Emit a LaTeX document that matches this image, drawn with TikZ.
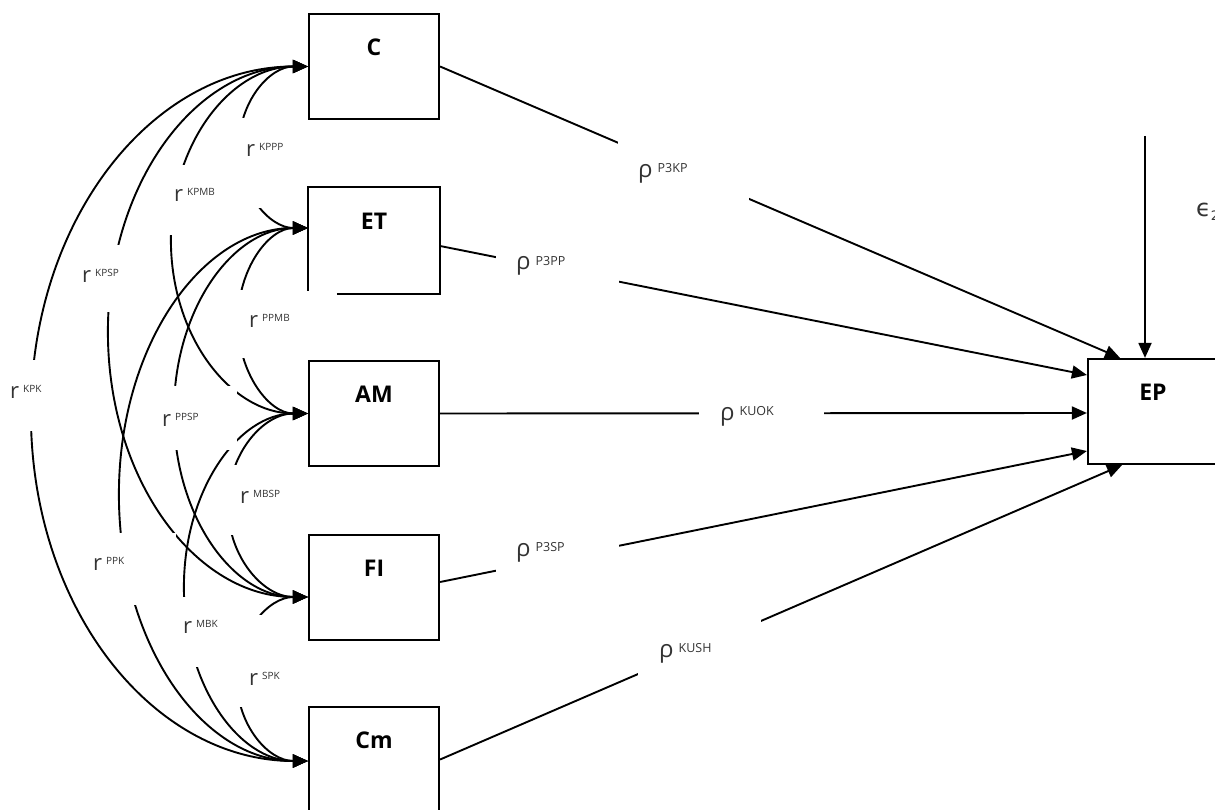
\documentclass[tikz,border=0pt]{standalone}
\usepackage{fontspec}
\setmainfont{Open Sans}
\newfontfamily\symfont{DejaVu Sans}
\usetikzlibrary{arrows.meta,calc}

% double-headed correlation arc bulging to the left of two box anchors
% #1 upper anchor, #2 lower anchor, #3 depth of the bulge
\newcommand\corrarc[3]{%
  \draw[corr] (#1) let \p1=(#1), \p2=(#2), \n1={(\y1+\y2)/2}, \n2={(\y1-\y2)/2} in
    .. controls ({\x1-0.56*#3}, \y1) and ({\x1-#3}, {(\n1+0.56*\n2)*1pt}) .. ({\x1-#3}, {\n1*1pt})
    .. controls ({\x1-#3}, {(\n1-0.56*\n2)*1pt}) and ({\x1-0.56*#3}, \y2) .. (#2);}

\newcommand\rsup[1]{\hspace{4pt}\raisebox{6pt}{\fontsize{10}{12}\selectfont #1}}
\newcommand\psup[1]{\hspace{5pt}\raisebox{5pt}{\fontsize{12.5}{14}\selectfont #1}}

\tikzset{
  tip/.tip={Triangle[length=15pt,width=13pt]},
  corr/.style={line width=1.9pt, tip-tip},
  pathline/.style={line width=1.9pt, -tip},
  box/.style={draw, line width=2.2pt, fill=white, minimum width=130pt, minimum height=105pt, inner sep=0pt},
  boxtext/.style={font=\fontsize{23}{26}\selectfont\bfseries, inner sep=0pt},
  rlab/.style={anchor=base west, inner sep=0pt, text=black!80, font=\fontsize{22}{24}\selectfont},
  plab/.style={anchor=base west, inner sep=0pt, text=black!80, font=\fontsize{24}{26}\selectfont},
  mask/.style={fill=white}
}

\begin{document}
\begin{tikzpicture}[x=1pt,y=-1pt]
\useasboundingbox (0,0) rectangle (1215,810);

% boxes
\path (374,66.5)  node[box] (C)  {};
\path (374,240.5) node[box, draw=none] (ET) {};
\path (374,413.5) node[box] (AM) {};
\path (374,587.5) node[box] (FI) {};
\path (374,759.5) node[box] (Cm) {};
\path (1153,411.5) node[box] (EP) {};

% arrow anchors on the left sides
\coordinate (aC)  at (C.west);
\coordinate (aET) at ([yshift=12.5pt]ET.west);
\coordinate (aAM) at (AM.west);
\coordinate (aFI) at ([yshift=-9.5pt]FI.west);
\coordinate (aCm) at ([yshift=-1.5pt]Cm.west);

% correlations
\corrarc{aC}{aET}{69}
\corrarc{aC}{aAM}{137}
\corrarc{aC}{aFI}{200}
\corrarc{aC}{aCm}{277}
\corrarc{aET}{aAM}{70}
\corrarc{aET}{aFI}{134}
\corrarc{aET}{aCm}{189}
\corrarc{aAM}{aFI}{80}
\corrarc{aAM}{aCm}{124}
\corrarc{aFI}{aCm}{71}

% paths into EP
\coordinate (eps) at (1145,136);
\draw[pathline] (C.east) -- ([xshift=-33pt]EP.north);
\draw[pathline] ([yshift=-5.5pt]ET.east) -- ([yshift=36.5pt]EP.west);
\draw[pathline] (AM.east) -- ([yshift=-1.5pt]EP.west);
\draw[pathline] ([yshift=5.5pt]FI.east) -- ([yshift=-39.5pt]EP.west);
\draw[pathline] (Cm.east) -- ([xshift=-31pt]EP.south);
\draw[pathline] (eps) -- ([xshift=-8pt]EP.north);

% label backgrounds
\fill[mask] (228,118) rectangle (300,208);
\fill[mask] (160,165) rectangle (228,235);
\fill[mask] (70,245) rectangle (140,312);
\fill[mask] (0,360) rectangle (55,431);
\fill[mask] (232,290) rectangle (298,358);
\fill[mask] (150,386) rectangle (237,450);
\fill[mask] (85,533) rectangle (176,605);
\fill[mask] (224,465) rectangle (298,535);
\fill[mask] (168,597) rectangle (228,667);
\fill[mask] (231,615) rectangle (300,707);
\fill[mask] (618,120) rectangle (749,212);
\fill[mask] (496,240) rectangle (619,295);
\fill[mask] (699,400) rectangle (824,428);
\fill[mask] (496,535) rectangle (619,590);
\fill[mask] (638,610) rectangle (761,690);

% outline of ET, open at its lower left corner
\draw[line width=2.2pt] ([xshift=29pt]ET.south west) -- (ET.south east) -- (ET.north east)
  -- (ET.north west) -- ([yshift=3pt]ET.south west);

% box titles
\node[boxtext] (tC)  at ([yshift=-34pt]C.north)  {C};
\node[boxtext] (tET) at ([yshift=-34pt]ET.north) {ET};
\node[boxtext] (tAM) at ([yshift=-34pt]AM.north) {AM};
\node[boxtext] (tFI) at ([yshift=-34pt]FI.north) {FI};
\node[boxtext] (tCm) at ([yshift=-34pt]Cm.north) {Cm};
\node[boxtext] (tEP) at ([yshift=-34pt]EP.north) {EP};

% correlation labels
\node[rlab] (lKPPP) at (246,157) {r\rsup{KPPP}};
\node[rlab] (lKPMB) at (174,202) {r\rsup{KPMB}};
\node[rlab] (lKPSP) at (82,283)  {r\rsup{KPSP}};
\node[rlab] (lKPK)  at (10,398)  {r\rsup{KPK}};
\node[rlab] (lPPMB) at (249,327) {r\rsup{PPMB}};
\node[rlab] (lPPSP) at (162,426) {r\rsup{PPSP}};
\node[rlab] (lPPK)  at (93,570)  {r\rsup{PPK}};
\node[rlab] (lMBSP) at (240,503) {r\rsup{MBSP}};
\node[rlab] (lMBK)  at (183,633) {r\rsup{MBK}};
\node[rlab] (lSPK)  at (249,685) {r\rsup{SPK}};

% path coefficient labels
\node[plab] (pP3KP) at (638,178) {ρ\psup{P3KP}};
\node[plab] (pP3PP) at (516,270) {ρ\psup{P3PP}};
\node[plab] (pKUOK) at (720,420) {ρ\psup{KUOK}};
\node[plab] (pP3SP) at (516,556) {ρ\psup{P3SP}};
\node[plab] (pKUSH) at (659,657) {ρ\psup{KUSH}};

% residual term
\node[anchor=base west, inner sep=0pt, text=black!80, font=\symfont\fontsize{24}{26}\selectfont] (leps) at (1196,217)
  {ϵ\raisebox{-4pt}{\fontsize{13}{14}\selectfont 2}};
\end{tikzpicture}
\end{document}
